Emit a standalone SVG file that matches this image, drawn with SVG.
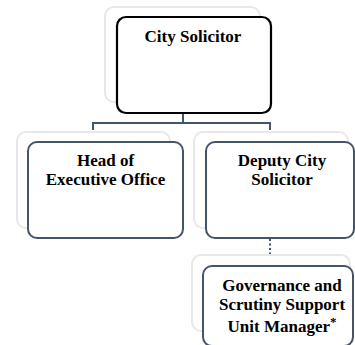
<svg xmlns="http://www.w3.org/2000/svg" width="355" height="345" viewBox="0 0 355 345">
<style>
.ghost{fill:#ffffff;stroke:#e8e8e8;stroke-width:2}
.box{fill:#ffffff;stroke:#44546a;stroke-width:2}
.top{fill:#ffffff;stroke:#000000;stroke-width:2.2}
.conn{fill:none;stroke:#44546a;stroke-width:2}
.dot{fill:none;stroke:#44546a;stroke-width:2;stroke-dasharray:2 2.5}
.t{font-family:'Liberation Serif','Times New Roman','DejaVu Serif',serif;font-weight:bold;font-size:17px;fill:#000;text-anchor:middle}
</style>
<rect width="355" height="345" fill="#ffffff"/>
<g id="connectors">
<path class="conn" d="M183,103 V123 M93,130 V123 H270 V130"/>
<path class="dot" d="M270,239 V263"/>
</g>
<g id="city-solicitor">
<rect class="ghost" x="105" y="7" width="155" height="95" rx="9"/>
<rect class="top" x="117" y="17" width="154" height="96" rx="9"/>
<text class="t" x="193" y="41.5" font-size="18">City Solicitor</text>
</g>
<g id="head-exec">
<rect class="ghost" x="17" y="132" width="153" height="96" rx="9"/>
<rect class="box" x="28" y="142" width="155" height="96" rx="9"/>
<text class="t" x="105.5" y="166">Head of</text>
<text class="t" x="105.5" y="185">Executive Office</text>
</g>
<g id="deputy">
<rect class="ghost" x="194" y="132" width="154" height="96" rx="9"/>
<rect class="box" x="206" y="142" width="148" height="96" rx="9"/>
<text class="t" x="282" y="166">Deputy City</text>
<text class="t" x="282" y="185">Solicitor</text>
</g>
<g id="governance">
<rect class="ghost" x="192" y="255" width="158" height="76" rx="9"/>
<rect class="box" x="203" y="266" width="150" height="80" rx="9"/>
<text class="t" x="282" y="291">Governance and</text>
<text class="t" x="282" y="310">Scrutiny Support</text>
<text class="t" x="282" y="332">Unit Manager<tspan dy="-6" font-size="13">*</tspan></text>
</g>
</svg>
